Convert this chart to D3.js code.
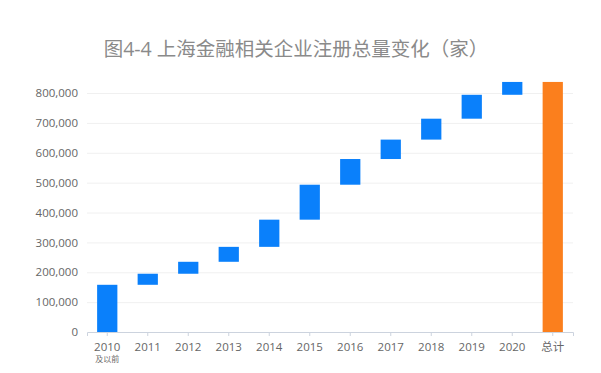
<!DOCTYPE html>
<html lang="zh">
<head>
  <meta charset="UTF-8">
  <title>上海金融相关企业注册总量变化</title>
  <script src="https://d3js.org/d3.v7.min.js"></script>
  <style>
    body { margin: 0; background: #fff; }
    text { font-family: "Open Sans", "Noto Sans CJK SC", sans-serif; }
    .grid line { stroke: #f0f0f0; }
    .grid path { display: none; }
  </style>
</head>
<body>
  <script>
    // 数据
    const categories = ['2010', '2011', '2012', '2013', '2014', '2015', '2016', '2017', '2018', '2019', '2020', '总计'];
    const increments = [158000, 37000, 40000, 50000, 91000, 117000, 86000, 65000, 70000, 80000, 43000];
    const yTicks = [0, 100000, 200000, 300000, 400000, 500000, 600000, 700000, 800000];

    const width = 601, height = 373;
    const margin = { top: 93, right: 28, bottom: 41, left: 87 };

    // 瀑布图的起止值
    const rows = [];
    let run = 0;
    increments.forEach((v, i) => {
      rows.push({ cat: categories[i], start: run, end: run + v, total: false });
      run += v;
    });
    rows.push({ cat: categories[categories.length - 1], start: 0, end: run, total: true });

    const svg = d3.select('body').append('svg')
      .attr('width', width)
      .attr('height', height);

    const x = d3.scaleBand()
      .domain(categories)
      .range([margin.left, width - margin.right])
      .paddingInner(0.5)
      .paddingOuter(0.25);

    const y = d3.scaleLinear()
      .domain([0, 800000])
      .range([height - margin.bottom, margin.top]);

    // 网格线
    svg.append('g')
      .attr('class', 'grid')
      .attr('transform', `translate(${margin.left},0)`)
      .call(d3.axisLeft(y).tickValues(yTicks.slice(1)).tickSize(-(width - margin.left - margin.right)).tickFormat(''));

    // y轴标签
    const yAxis = svg.append('g')
      .attr('transform', `translate(${margin.left - 6},0)`)
      .call(d3.axisLeft(y).tickValues(yTicks).tickSize(0).tickFormat(d3.format(',')));
    yAxis.select('.domain').remove();
    yAxis.selectAll('text')
      .attr('fill', '#666')
      .attr('font-size', 11.5);

    // x轴
    const xAxis = svg.append('g')
      .attr('transform', `translate(0,${y(0)})`)
      .call(d3.axisBottom(x).tickSize(4).tickPadding(7));
    xAxis.select('.domain').attr('stroke', '#ccd3de');
    xAxis.selectAll('.tick line').attr('stroke', '#ccd3de');
    xAxis.selectAll('text')
      .attr('fill', '#666')
      .attr('font-size', 11.5);

    svg.append('text')
      .attr('x', x('2010') + x.bandwidth() / 2)
      .attr('y', y(0) + 30)
      .attr('text-anchor', 'middle')
      .attr('font-size', 8)
      .attr('fill', '#666')
      .text('及以前');

    // 柱子
    svg.append('g')
      .selectAll('rect')
      .data(rows)
      .enter().append('rect')
      .attr('x', d => x(d.cat))
      .attr('width', x.bandwidth())
      .attr('y', d => y(d.end))
      .attr('height', d => y(d.start) - y(d.end))
      .attr('fill', d => d.total ? '#fb7f1d' : '#0a80fb');

    // 标题
    svg.append('text')
      .attr('x', 296)
      .attr('y', 56)
      .attr('text-anchor', 'middle')
      .attr('font-size', 19.5)
      .attr('fill', '#8a8a8a')
      .text('图4-4 上海金融相关企业注册总量变化（家）');
  </script>
</body>
</html>
